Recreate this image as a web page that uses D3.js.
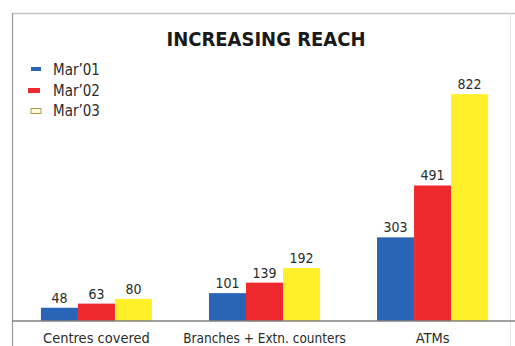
<!DOCTYPE html>
<html>
<head>
  <meta charset="utf-8">
  <style>
    body { margin: 0; background: #fff; }
    svg { display: block; }
    .lbl { font-family: "DejaVu Sans Condensed", "Liberation Sans Narrow", sans-serif; fill: #2b2b2b; }
  </style>
</head>
<body>
  <div id="chart"></div>
  <script src="https://d3js.org/d3.v7.min.js"></script>
  <script>
    var categories = ['Centres covered', 'Branches + Extn. counters', 'ATMs'];
    var seriesNames = ['Mar\u201901', 'Mar\u201902', 'Mar\u201903'];
    var mar01 = [48, 101, 303];
    var mar02 = [63, 139, 491];
    var mar03 = [80, 192, 822];
    var colors = ['#2a64b4', '#ef2a2f', '#fff02a'];

    var width = 515, height = 346;
    var baseY = 321;

    var svg = d3.select('#chart')
        .append('svg')
        .attr('width', width)
        .attr('height', height);

    // frame
    svg.append('line').attr('x1', 12).attr('x2', 515).attr('y1', 13.5).attr('y2', 13.5)
        .attr('stroke', '#c4c4c4').attr('stroke-width', 1.5);
    svg.append('line').attr('x1', 12.5).attr('x2', 12.5).attr('y1', 13).attr('y2', 346)
        .attr('stroke', '#9a9a9a').attr('stroke-width', 1.2);
    svg.append('line').attr('x1', 510.5).attr('x2', 510.5).attr('y1', 13).attr('y2', 346)
        .attr('stroke', '#e2e2e2').attr('stroke-width', 1);

    var x0 = d3.scaleBand()
        .domain(categories)
        .range([12, 517])
        .paddingInner(0.339)
        .paddingOuter(0.172);

    var x1 = d3.scaleBand()
        .domain(seriesNames)
        .range([0, x0.bandwidth()]);

    var y = d3.scaleLinear()
        .domain([0, 1000])
        .range([baseY, 45]);

    var rows = categories.map(function (c, i) {
      return {cat: c, values: [mar01[i], mar02[i], mar03[i]]};
    });

    var groups = svg.append('g')
        .selectAll('g')
        .data(rows)
        .join('g')
        .attr('transform', d => 'translate(' + x0(d.cat) + ',0)');

    groups.selectAll('rect')
        .data(d => d.values.map((v, j) => ({key: seriesNames[j], v: v, j: j})))
        .join('rect')
        .attr('x', d => x1(d.key))
        .attr('y', d => y(d.v))
        .attr('width', x1.bandwidth())
        .attr('height', d => baseY - y(d.v))
        .attr('fill', d => colors[d.j]);

    groups.selectAll('text')
        .data(d => d.values.map((v, j) => ({key: seriesNames[j], v: v, j: j})))
        .join('text')
        .attr('class', 'lbl')
        .attr('x', d => x1(d.key) + x1.bandwidth() / 2)
        .attr('y', d => y(d.v) - 5)
        .attr('text-anchor', 'middle')
        .style('font-size', '14px')
        .text(d => d.v);

    // baseline axis
    var xAxis = svg.append('g')
        .attr('transform', 'translate(0,' + baseY + ')')
        .call(d3.axisBottom(x0).tickSize(0).tickPadding(12));
    xAxis.select('.domain').attr('stroke', '#808080').attr('stroke-width', 1.5)
        .attr('d', 'M12,0H515');
    xAxis.selectAll('text')
        .attr('class', 'lbl')
        .style('font-size', '14.5px')
        .attr('dy', '0.71em');
    xAxis.selectAll('text')
        .filter(d => d === categories[1])
        .style('font-size', '13.5px');

    // title
    svg.append('text')
        .attr('x', 266)
        .attr('y', 46)
        .attr('text-anchor', 'middle')
        .style('font-family', '"DejaVu Sans Condensed", sans-serif')
        .style('font-weight', 'bold')
        .style('font-size', '20px')
        .style('fill', '#1a1a1a')
        .text('INCREASING REACH');

    // legend
    var legend = svg.append('g')
        .selectAll('g')
        .data(seriesNames)
        .join('g')
        .attr('transform', (d, i) => 'translate(0,' + (75 + i * 20.5) + ')');

    legend.append('rect')
        .attr('x', (d, i) => i === 1 ? 28 : 31)
        .attr('y', (d, i) => i === 0 ? -8 : -7.5)
        .attr('width', (d, i) => i === 1 ? 12 : 10)
        .attr('height', (d, i) => i === 0 ? 4 : 5)
        .attr('fill', (d, i) => i === 2 ? '#fffbe0' : colors[i])
        .attr('stroke', (d, i) => i === 2 ? '#a89a4a' : 'none')
        .attr('stroke-width', 1);

    legend.append('text')
        .attr('class', 'lbl')
        .attr('x', 53)
        .attr('y', 0)
        .style('font-size', '15px')
        .text(d => d);
  </script>
</body>
</html>
